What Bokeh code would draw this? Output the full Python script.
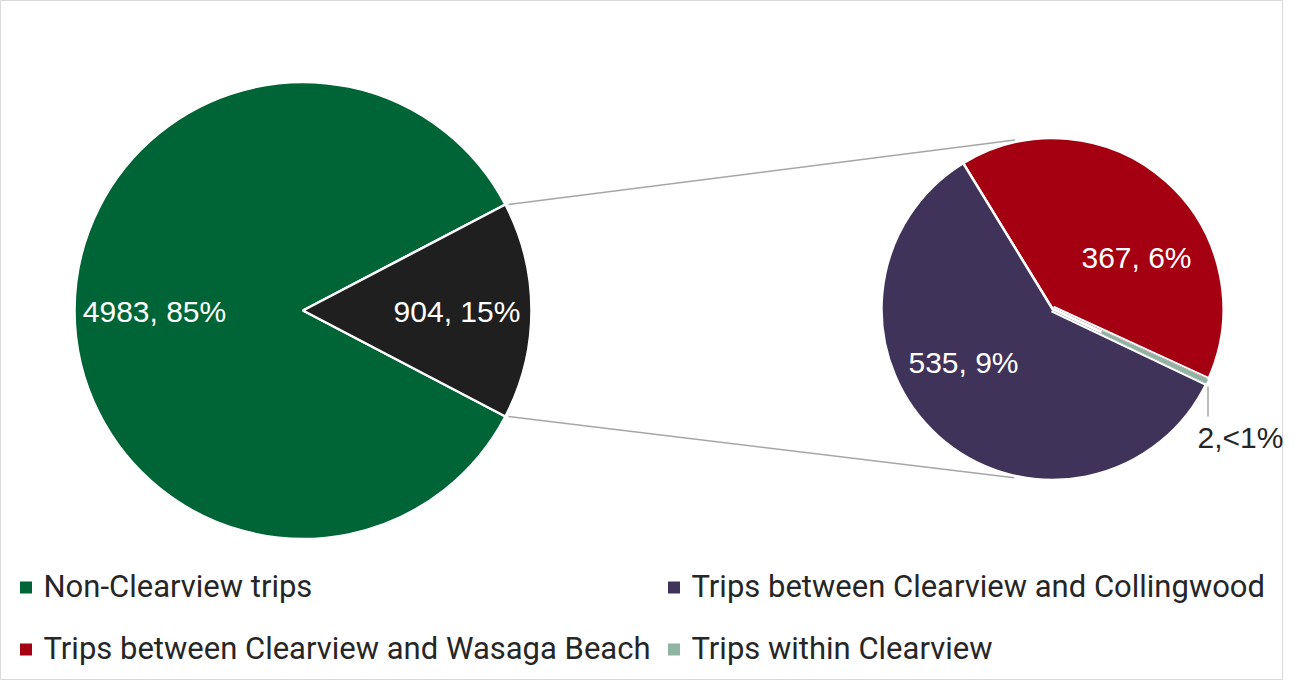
import math
from bokeh.plotting import figure
from bokeh.models import Range1d
from bokeh.core.properties import value
from bokeh.embed import file_html
from bokeh.resources import INLINE

# ---------------- data ----------------
main_categories = ["Non-Clearview trips", "Clearview trips"]
main_values = [4983, 904]
sub_categories = ["Trips between Clearview and Wasaga Beach",
                  "Trips within Clearview",
                  "Trips between Clearview and Collingwood"]
sub_values = [367, 2, 535]
legend_order = ["Non-Clearview trips",
                "Trips between Clearview and Collingwood",
                "Trips between Clearview and Wasaga Beach",
                "Trips within Clearview"]

# ---------------- styles ----------------
colors = {
    "Non-Clearview trips": "#006536",
    "Clearview trips": "#1f1f1f",
    "Trips between Clearview and Wasaga Beach": "#a50012",
    "Trips within Clearview": "#8fb4a1",
    "Trips between Clearview and Collingwood": "#3f335a",
}
TEXT_DARK = "#262626"
LINE_GREY = "#a6a6a6"
LABEL_FONT = value("Liberation Sans")
LEGEND_FONT = value("Roboto")

W, H = 1283, 680


def X(sx):
    return sx


def Y(sy):
    return H - sy


p = figure(width=W, height=H, output_backend="svg", toolbar_location=None,
           x_range=Range1d(0, W), y_range=Range1d(0, H),
           x_axis_location=None, y_axis_location=None, min_border=0)
p.grid.visible = False
p.outline_line_color = "#d9d9d9"
p.outline_line_width = 1
p.background_fill_color = "white"

# ---------------- main pie ----------------
c1x, c1y, R1 = 302.5, 310, 228.5
total = sum(main_values)
half = math.pi * main_values[1] / total  # exploded slice centred on 0 rad
main_starts = [half, -half]
main_ends = [2 * math.pi - half, half]
for cat, s, e in zip(main_categories, main_starts, main_ends):
    p.wedge(x=[X(c1x)], y=[Y(c1y)], radius=R1, start_angle=s, end_angle=e,
            fill_color=colors[cat], line_color="white", line_width=2.5)

main_label_pos = [(154, 311), (456.5, 311)]
for v, (lx, ly) in zip(main_values, main_label_pos):
    pct = round(100 * v / total)
    p.text(x=[X(lx)], y=[Y(ly)], text=[f"{v}, {pct}%"], text_color="white",
           text_font=LABEL_FONT, text_font_size="30px",
           text_align="center", text_baseline="middle")

# ---------------- secondary pie ----------------
c2x, c2y, R2 = 1052, 308.5, 171
sub_total = sum(sub_values)
a = math.radians(90 + 31.5)  # start of first slice, going clockwise
sub_angles = []
for v in sub_values:
    span = 2 * math.pi * v / sub_total
    sub_angles.append((a - span, a))
    a -= span
for cat, (s, e) in zip(sub_categories, sub_angles):
    if cat == "Trips within Clearview":
        continue
    p.wedge(x=[X(c2x)], y=[Y(c2y)], radius=R2, start_angle=s, end_angle=e,
            fill_color=colors[cat], line_color="white", line_width=2.5)

# tiny slice drawn on top, widened slightly so it stays visible
ts, te = sub_angles[1]
p.annular_wedge(x=[X(c2x)], y=[Y(c2y)], inner_radius=55, outer_radius=R2 - 1.2,
                start_angle=ts, end_angle=te,
                fill_color=colors["Trips within Clearview"],
                line_color=colors["Trips within Clearview"], line_width=2.2)
# white separators on either side of the tiny slice
for theta, side in [(te, 1), (ts, -1)]:
    nx, ny = -math.sin(theta) * side, math.cos(theta) * side
    off = 2.5
    x0 = X(c2x) + nx * off
    y0 = Y(c2y) + ny * off
    x1 = X(c2x) + R2 * math.cos(theta) + nx * off
    y1 = Y(c2y) + R2 * math.sin(theta) + ny * off
    p.line(x=[x0, x1], y=[y0, y1], line_color="white", line_width=2)

# connector lines
for sign, bearing in [(1, -12.5), (-1, 192.8)]:
    ang = sign * half
    x0 = c1x + R1 * math.cos(ang)
    y0 = c1y - R1 * math.sin(ang)
    b = math.radians(bearing)
    x1 = c2x + (R2 + 2) * math.sin(b)
    y1 = c2y - (R2 + 2) * math.cos(b)
    p.line(x=[X(x0 + 3), X(x1)], y=[Y(y0), Y(y1)], line_color=LINE_GREY,
           line_width=1.5)

# labels
sub_label_pos = [(1136, 257), (1240, 437), (963, 362)]
sub_label_col = ["white", TEXT_DARK, "white"]
for v, (lx, ly), col in zip(sub_values, sub_label_pos, sub_label_col):
    pct = 100 * v / total
    pct_txt = "<1%" if pct < 1 else f"{round(pct)}%"
    sep = "," if pct < 1 else ", "
    p.text(x=[X(lx)], y=[Y(ly)], text=[f"{v}{sep}{pct_txt}"], text_color=col,
           text_font=LABEL_FONT, text_font_size="30px",
           text_align="center", text_baseline="middle")

# leader line for the tiny slice
p.line(x=[X(1207.5), X(1207.5)], y=[Y(386), Y(416)], line_color=LINE_GREY,
       line_width=1.5)

# ---------------- legend ----------------
legend_pos = [(25.5, 587), (673.5, 587), (25.5, 649), (673.5, 649)]
for cat, (lx, ly) in zip(legend_order, legend_pos):
    p.rect(x=[X(lx)], y=[Y(ly)], width=12, height=12,
           fill_color=colors[cat], line_color=None)
    p.text(x=[X(lx + 17.5)], y=[Y(ly - 1)], text=[cat], text_color=TEXT_DARK,
           text_font=LEGEND_FONT, text_font_size="31px",
           text_align="left", text_baseline="middle")

open("out.html", "w").write(file_html(p, INLINE))
